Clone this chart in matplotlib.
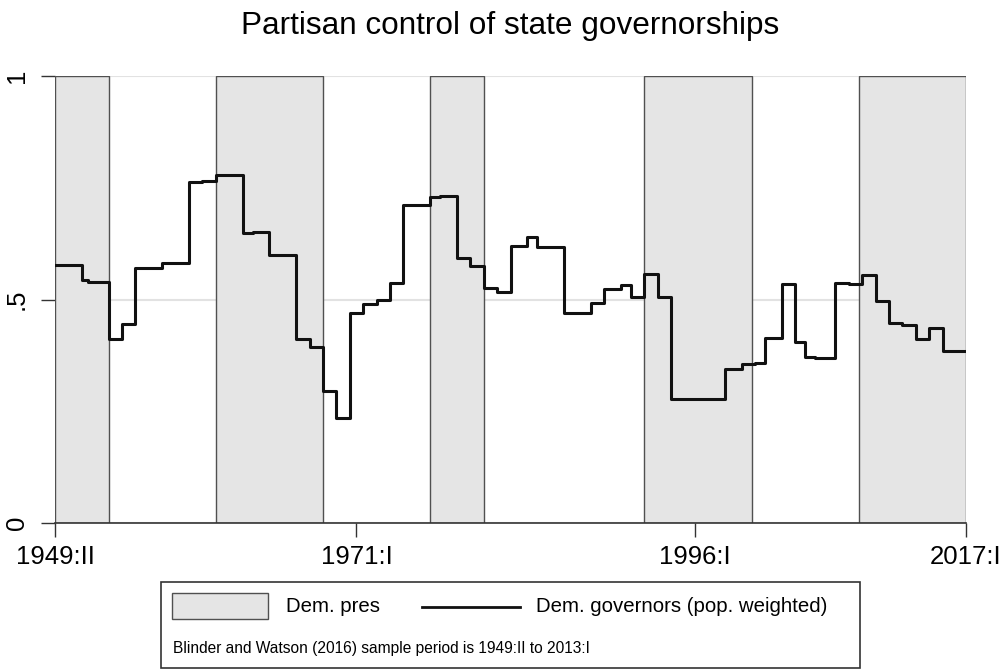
import matplotlib
matplotlib.use('Agg')
import matplotlib.pyplot as plt
from matplotlib.patches import Rectangle
from matplotlib.lines import Line2D

plt.rcParams['font.family'] = ['Liberation Sans', 'DejaVu Sans']

# Democratic presidencies (shaded)
dem_start = [1949.0, 1961.0, 1977.0, 1993.0, 2009.0]
dem_end = [1953.0, 1969.0, 1981.0, 2001.0, 2017.0]

# Dem. governors share (population weighted), step changes
gov_start = [1949.0, 1951.0, 1951.5, 1953.0, 1954.0, 1955.0, 1957.0, 1959.0, 1960.0, 1961.0,
             1963.0, 1963.75, 1965.0, 1967.0, 1968.0, 1969.0, 1970.0, 1971.0, 1972.0, 1973.0,
             1974.0, 1975.0, 1977.0, 1977.75, 1979.0, 1980.0, 1981.0, 1982.0, 1983.0, 1984.25,
             1985.0, 1987.0, 1989.0, 1990.0, 1991.25, 1992.0, 1993.0, 1994.0, 1995.0, 1999.0,
             2000.25, 2001.25, 2002.0, 2003.25, 2004.25, 2005.0, 2005.75, 2007.25, 2008.25, 2009.25,
             2010.25, 2011.25, 2012.25, 2013.25, 2014.25, 2015.25]
gov_share = [0.577, 0.544, 0.539, 0.411, 0.445, 0.571, 0.581, 0.762, 0.766, 0.779,
             0.649, 0.652, 0.599, 0.411, 0.394, 0.296, 0.236, 0.469, 0.490, 0.499,
             0.538, 0.711, 0.729, 0.732, 0.592, 0.575, 0.525, 0.517, 0.620, 0.639,
             0.617, 0.469, 0.493, 0.523, 0.532, 0.506, 0.557, 0.506, 0.277, 0.344,
             0.356, 0.359, 0.413, 0.535, 0.406, 0.372, 0.369, 0.538, 0.535, 0.554,
             0.497, 0.447, 0.443, 0.411, 0.436, 0.385]
x_first, x_last = 1949.0, 2017.0

xtick_pos = [1949.0, 1971.5, 1996.75, 2017.0]
xtick_lab = ['1949:II', '1971:I', '1996:I', '2017:I']
ytick_pos = [0, 0.5, 1]
ytick_lab = ['0', '.5', '1']

W, H = 1006, 670
fig = plt.figure(figsize=(W / 100, H / 100), dpi=100)
ax = fig.add_axes([55 / W, 147 / H, 911 / W, 447 / H])

ax.bar(dem_start, [1] * len(dem_start), width=[e - s for s, e in zip(dem_start, dem_end)],
       align='edge', color='#e5e5e5', edgecolor='#505050', linewidth=1.0, zorder=2)
ax.step(gov_start + [x_last], gov_share + [gov_share[-1]], where='post',
        color='#111111', linewidth=2.2, zorder=3)

ax.set_xlim(x_first, x_last)
ax.set_ylim(0, 1)
ax.set_yticks(ytick_pos)
ax.set_yticklabels(ytick_lab, rotation=90, va='center', fontsize=18.5)
ax.set_xticks(xtick_pos)
ax.set_xticklabels(xtick_lab, fontsize=18.5)
ax.tick_params(axis='both', length=10, width=1.0, color='#333333', pad=6)
ax.tick_params(axis='y', pad=9)
ax.yaxis.grid(True, color='#e2e2e2', linewidth=1.5, zorder=0)
ax.set_axisbelow(True)
for s in ['top', 'right', 'left']:
    ax.spines[s].set_visible(False)
ax.spines['bottom'].set_color('#333333')
ax.spines['bottom'].set_linewidth(1.2)

fig.text(510 / W, 1 - 34 / H, 'Partisan control of state governorships',
         ha='center', va='baseline', fontsize=22.7)

# legend box
def fx(px):
    return px / W

def fy(py):
    return 1 - py / H

fig.add_artist(Rectangle((fx(161), fy(668)), fx(860) - fx(161), fy(582) - fy(668),
                         transform=fig.transFigure, facecolor='white', edgecolor='#333333',
                         linewidth=1.2))
fig.add_artist(Rectangle((fx(172), fy(619)), fx(268) - fx(172), fy(593) - fy(619),
                         transform=fig.transFigure, facecolor='#e5e5e5', edgecolor='#505050',
                         linewidth=1.0))
fig.text(fx(286), fy(607), 'Dem. pres', ha='left', va='center', fontsize=14.7)
fig.add_artist(Line2D([fx(422), fx(520)], [fy(607), fy(607)], transform=fig.transFigure,
                      color='#111111', linewidth=2.0))
fig.text(fx(536), fy(607), 'Dem. governors (pop. weighted)', ha='left', va='center',
         fontsize=14.7)
fig.text(fx(173), fy(648), 'Blinder and Watson (2016) sample period is 1949:II to 2013:I',
         ha='left', va='center', fontsize=11.2)

fig.savefig('out.png', dpi=100)
